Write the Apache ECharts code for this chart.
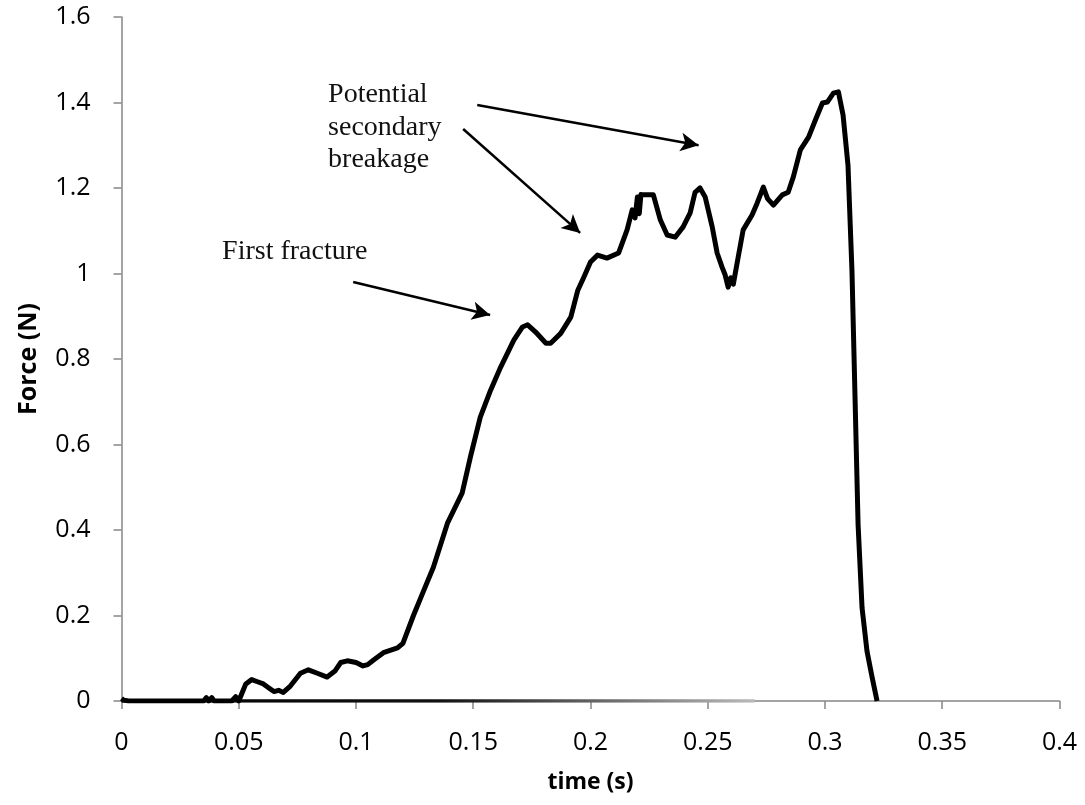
<!DOCTYPE html>
<html lang="en">
<head>
    <meta charset="UTF-8">
    <script src="https://cdn.jsdelivr.net/npm/echarts@6/dist/echarts.min.js"></script>
    <title>Force trace</title>
</head>
<body style="margin:0;background:#fff;">
    <div id="main" style="width:1085px;height:805px;"></div>
    <script>
// time (s) , force (N)
var trace = [
  [0, 0.006], [0.001, 0.002], [0.003, 0], [0.035, 0], [0.0362, 0.008], [0.0372, 0],
  [0.0385, 0.008], [0.0395, 0], [0.0405, 0], [0.047, 0], [0.0487, 0.01], [0.050, 0],
  [0.0515, 0.02], [0.053, 0.04], [0.0555, 0.05], [0.058, 0.045], [0.0605, 0.04], [0.063, 0.03],
  [0.065, 0.022], [0.067, 0.025], [0.069, 0.02], [0.072, 0.035], [0.0763, 0.065], [0.0797, 0.073],
  [0.0835, 0.065], [0.0877, 0.056], [0.091, 0.07], [0.0935, 0.09], [0.0963, 0.094], [0.100, 0.09],
  [0.103, 0.082], [0.105, 0.085], [0.1075, 0.096], [0.1117, 0.113], [0.1177, 0.124], [0.120, 0.135],
  [0.1245, 0.2], [0.129, 0.26], [0.133, 0.313], [0.139, 0.416], [0.1453, 0.487], [0.1488, 0.571],
  [0.153, 0.664], [0.1574, 0.727], [0.1617, 0.781], [0.1673, 0.844], [0.171, 0.875], [0.1732, 0.88],
  [0.1766, 0.863], [0.181, 0.837], [0.183, 0.837], [0.1873, 0.86], [0.1916, 0.898], [0.1946, 0.961],
  [0.1972, 0.992], [0.2, 1.027], [0.203, 1.043], [0.207, 1.036], [0.212, 1.048], [0.2156, 1.102],
  [0.2178, 1.149], [0.219, 1.13], [0.22, 1.179], [0.2208, 1.14], [0.2215, 1.185], [0.2225, 1.184],
  [0.2268, 1.184], [0.2298, 1.125], [0.2327, 1.09], [0.2361, 1.085], [0.2395, 1.109], [0.2425, 1.142],
  [0.2446, 1.19], [0.2467, 1.2], [0.2489, 1.179], [0.2519, 1.109], [0.254, 1.048], [0.2561, 1.015],
  [0.2574, 0.997], [0.2587, 0.968], [0.2598, 0.99], [0.2609, 0.975], [0.263, 1.039], [0.2651, 1.102],
  [0.2689, 1.137], [0.2711, 1.165], [0.2737, 1.202], [0.2755, 1.175], [0.278, 1.16], [0.2818, 1.184],
  [0.2843, 1.19], [0.2865, 1.226], [0.2895, 1.289], [0.293, 1.319], [0.2959, 1.359], [0.2989, 1.399],
  [0.301, 1.401], [0.3036, 1.422], [0.3057, 1.425], [0.3077, 1.371], [0.3098, 1.254], [0.3115, 1.006],
  [0.3128, 0.711], [0.3141, 0.414], [0.3158, 0.218], [0.3179, 0.117], [0.32, 0.058], [0.3222, 0]
];
// the return stroke along zero
var baseline = [[0, 0], [0.27, 0]];

// annotation arrows [from, to] in data units
var arrows = [
  [[0.0988, 0.980], [0.1572, 0.903]],
  [[0.1517, 1.394], [0.2461, 1.300]],
  [[0.1457, 1.338], [0.1956, 1.095]]
];
var notes = [
  {text: 'First fracture', at: [0.0429, 1.05]},
  {text: 'Potential', at: [0.0881, 1.418]},
  {text: 'secondary', at: [0.0881, 1.342]},
  {text: 'breakage', at: [0.0881, 1.267]}
];

var myChart = echarts.init(document.getElementById('main'));
var axisGrey = '#868686';
var option = {
  animation: false,
  backgroundColor: '#fff',
  grid: {left: 121.5, right: 25.5, top: 17, bottom: 104},
  xAxis: {
    type: 'value', min: 0, max: 0.4, interval: 0.05,
    name: 'time (s)', nameLocation: 'middle', nameGap: 70,
    nameTextStyle: {fontFamily: 'Open Sans', fontWeight: 'bold', fontSize: 23, color: '#000'},
    axisLine: {lineStyle: {color: axisGrey, width: 1.5}},
    axisTick: {length: 8, lineStyle: {color: axisGrey, width: 1.5}},
    axisLabel: {fontFamily: 'Open Sans', fontSize: 25, color: '#000', margin: 29},
    splitLine: {show: false}
  },
  yAxis: {
    type: 'value', min: 0, max: 1.6, interval: 0.2,
    name: 'Force (N)', nameLocation: 'middle', nameGap: 80,
    nameTextStyle: {fontFamily: 'Open Sans', fontWeight: 'bold', fontSize: 25, color: '#000'},
    axisLine: {show: true, lineStyle: {color: axisGrey, width: 1.5}},
    axisTick: {show: true, length: 8, lineStyle: {color: axisGrey, width: 1.5}},
    axisLabel: {fontFamily: 'Open Sans', fontSize: 25, color: '#000', margin: 31},
    splitLine: {show: false}
  },
  series: [
    {
      type: 'line', data: baseline, symbol: 'none', silent: true,
      lineStyle: {
        width: 3.5,
        color: new echarts.graphic.LinearGradient(0, 0, 1, 0, [
          {offset: 0, color: '#000'}, {offset: 0.5, color: '#111'}, {offset: 1, color: '#bbb'}
        ])
      }
    },
    {
      type: 'line', data: trace, symbol: 'none',
      lineStyle: {color: '#000', width: 5, join: 'round'},
      markLine: {
        silent: true, symbol: ['none', 'arrow'], symbolSize: [14, 18],
        lineStyle: {color: '#000', width: 2.5, type: 'solid'},
        label: {show: false},
        data: arrows.map(function (a) {
          return [{coord: a[0]}, {coord: a[1]}];
        })
      }
    }
  ]
};
myChart.setOption(option);

myChart.setOption({
  graphic: notes.map(function (n) {
    var p = myChart.convertToPixel({gridIndex: 0}, n.at);
    return {
      type: 'text', x: p[0], y: p[1],
      style: {text: n.text, fontFamily: 'Liberation Serif', fontSize: 28, fill: '#111', verticalAlign: 'middle'}
    };
  })
});
    </script>
</body>
</html>
